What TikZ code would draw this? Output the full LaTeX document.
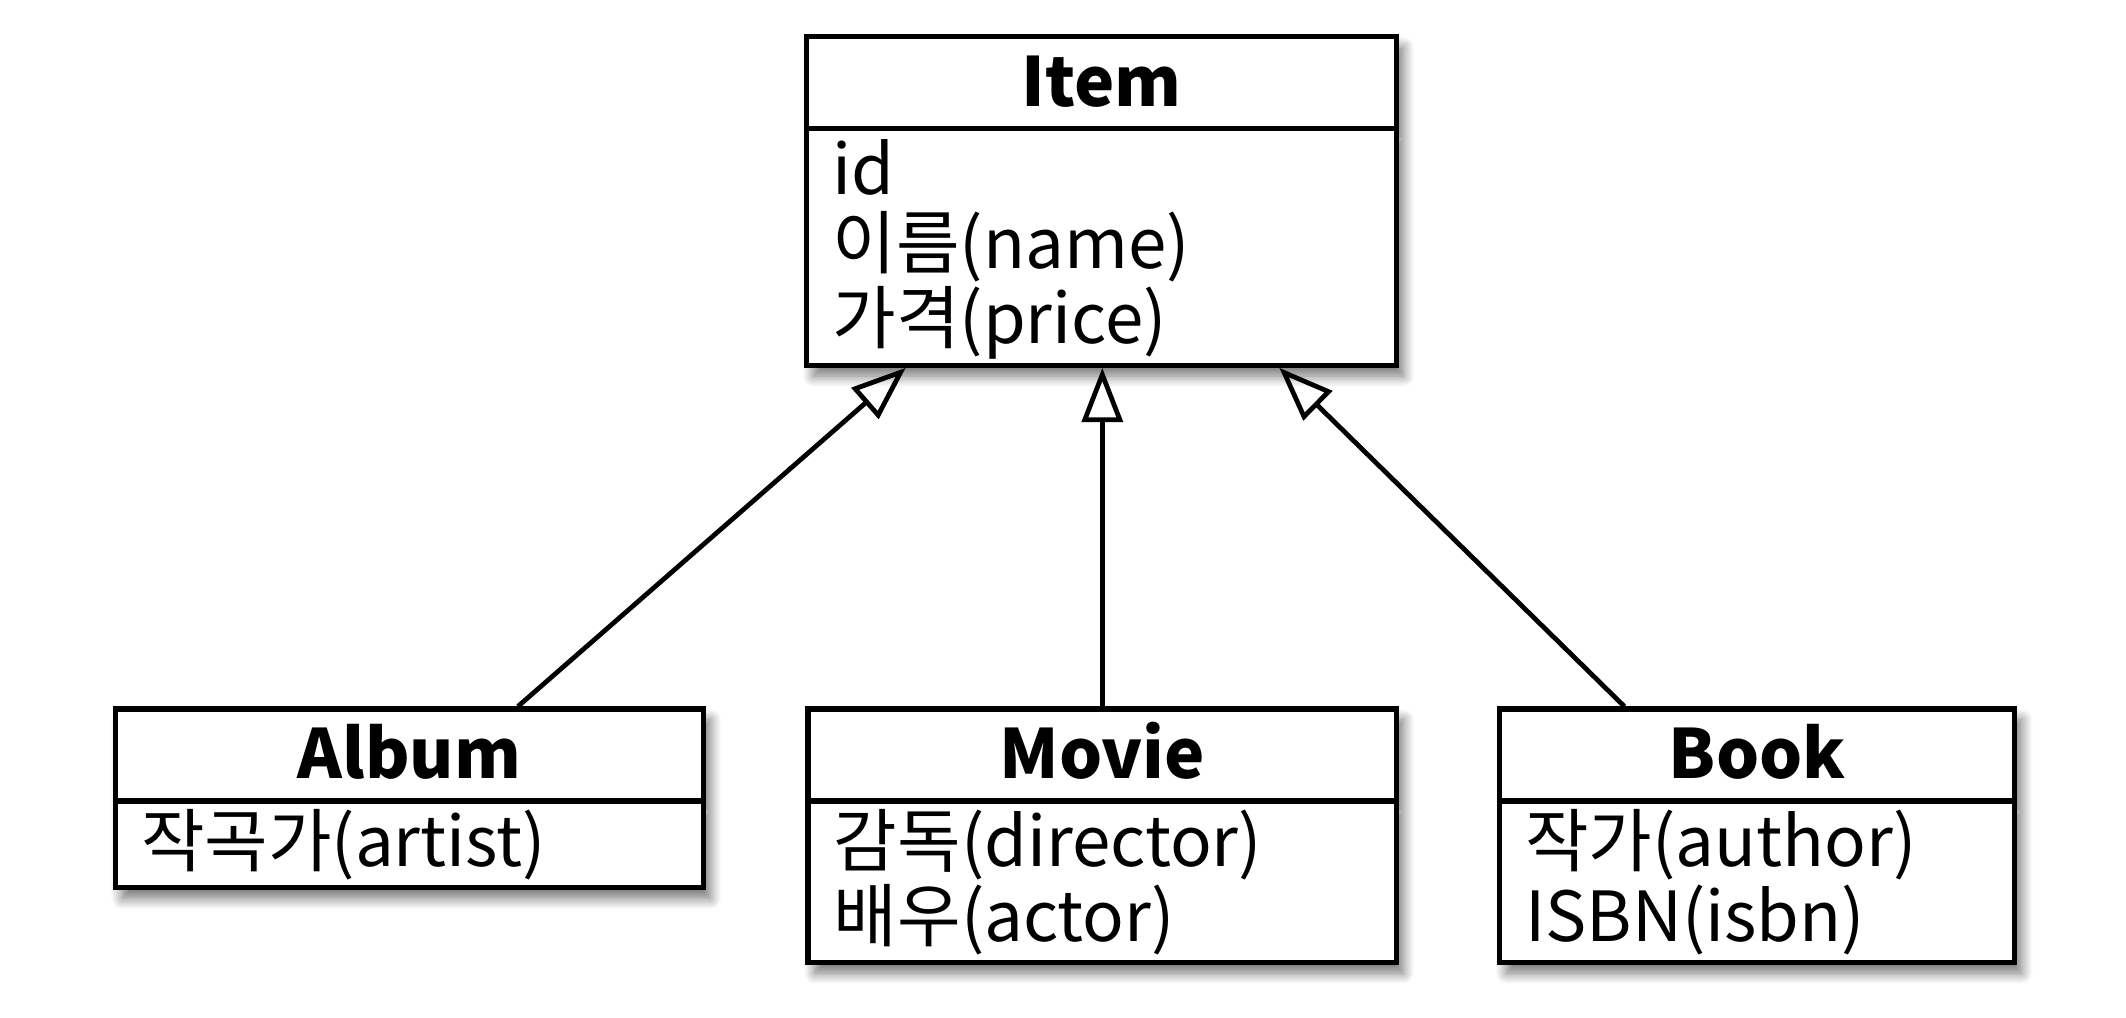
\documentclass[tikz,border=0pt]{standalone}
\usepackage{fontspec}
\setmainfont{Noto Sans CJK KR}
\usetikzlibrary{shapes,arrows.meta,shadows.blur}
\newcommand{\titlestrut}{\rule[-0.24cm]{0pt}{1.18cm}}
\newcommand{\attrstrut}{\rule[-0.22cm]{0pt}{1.10cm}}
\newcommand{\classtitle}[1]{\titlestrut{\fontsize{28.5pt}{34pt}\selectfont\bfseries #1}}

\begin{document}
\begin{tikzpicture}
\tikzstyle{umlclass}=[rectangle split, rectangle split parts=2, rectangle split part align={center,left}, draw, line width=2.2pt, fill=white, align=left, inner xsep=0.38cm, inner ysep=0.05cm, anchor=north, font=\fontsize{29pt}{31.3pt}\selectfont, blur shadow={shadow xshift=0.1cm, shadow yshift=-0.16cm, shadow blur radius=0.16cm, shadow blur steps=12, shadow opacity=55}]
\tikzstyle{inherits}=[line width=2pt, -{Triangle[open, length=0.8cm, width=0.6cm]}]
\useasboundingbox (0,0) rectangle (31.36,-15.016);
\node[umlclass, minimum width=8.7cm] (item) at (16.25,-0.5) {\classtitle{Item}
  \nodepart{two} \attrstrut id\\ \attrstrut 이름(name)\\ \attrstrut 가격(price)};
\node[umlclass, minimum width=8.68cm] (album) at (6.04,-10.42) {\classtitle{Album}
  \nodepart{two} \attrstrut 작곡가(artist)};
\node[umlclass, minimum width=8.68cm] (movie) at (16.26,-10.42) {\classtitle{Movie}
  \nodepart{two} \attrstrut 감독(director)\\ \attrstrut 배우(actor)};
\node[umlclass, minimum width=7.6cm] (book) at (25.92,-10.42) {\classtitle{Book}
  \nodepart{two} \attrstrut 작가(author)\\ \attrstrut ISBN(isbn)};
\draw[inherits] ([xshift=1.6cm]album.north) -- ([xshift=-2.89cm]item.south);
\draw[inherits] (movie.north) -- (movie.north |- item.south);
\draw[inherits] ([xshift=-1.96cm]book.north) -- ([xshift=2.62cm]item.south);
\end{tikzpicture}
\end{document}
